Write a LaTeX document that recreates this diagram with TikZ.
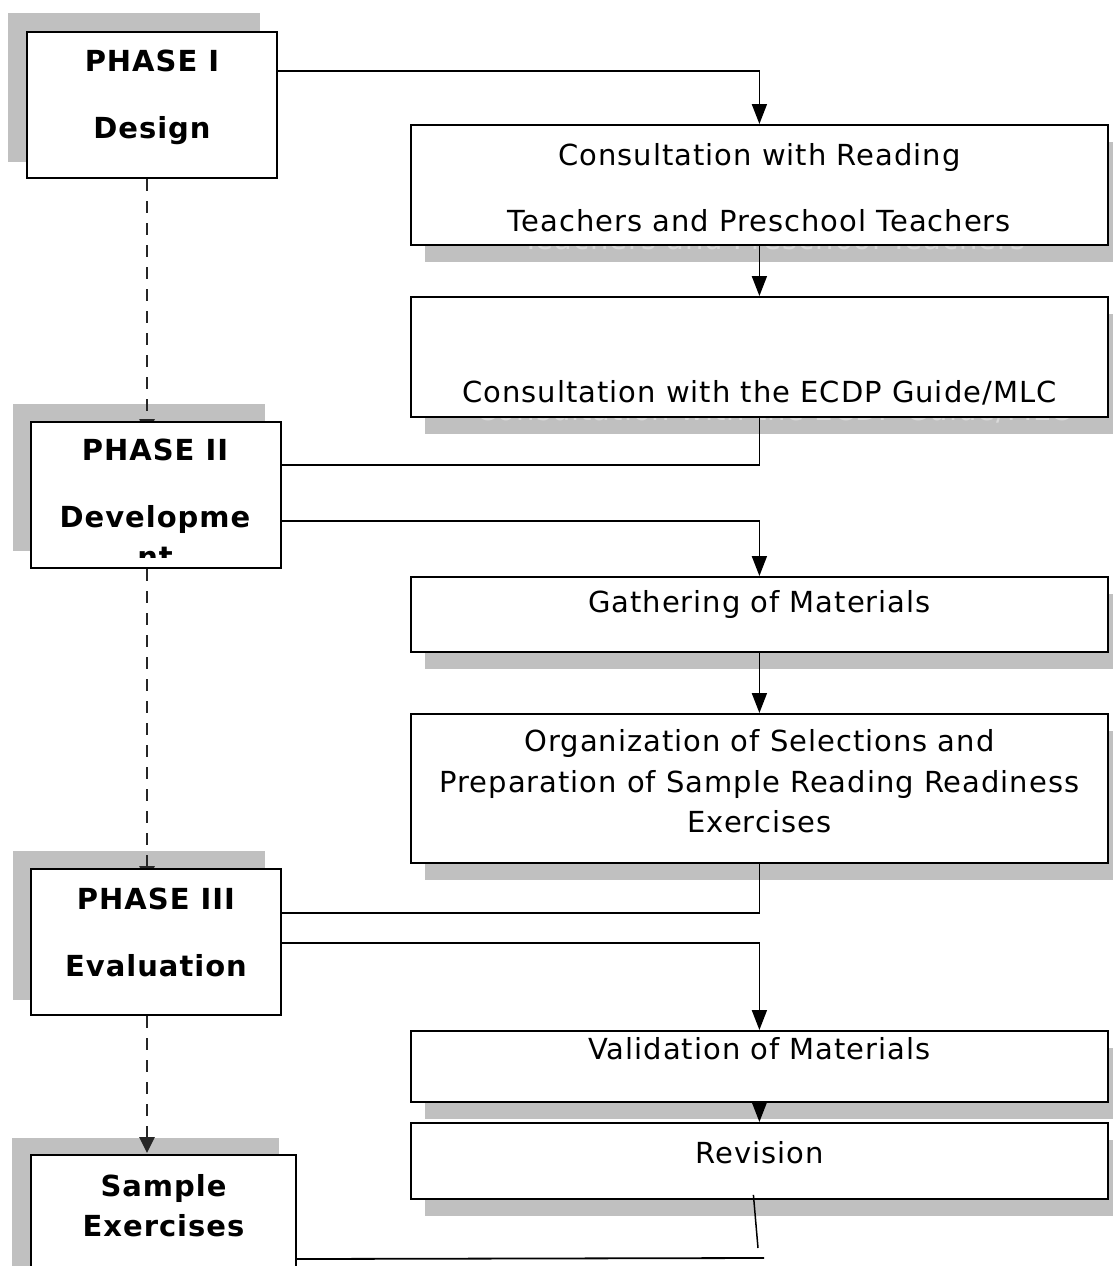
\documentclass[tikz,border=0pt]{standalone}
\usepackage{fontspec}
\setmainfont{DejaVu Sans}
\newfontfamily\spacedfamily[LetterSpace=3.4]{DejaVu Sans}
\usetikzlibrary{arrows.meta,positioning}

\definecolor{shadowgray}{HTML}{C0C0C0}
\definecolor{ghostgray}{HTML}{DADADA}
\definecolor{dashgray}{HTML}{262626}

\newcommand{\stepfont}{\spacedfamily\fontsize{29}{66}\selectfont}
\newcommand{\phasefont}{\spacedfamily\bfseries\fontsize{29}{67}\selectfont}

\tikzset{
  phasebox/.style={draw, line width=2pt, fill=white, anchor=north west, align=center,
    font=\phasefont, minimum width=250pt, minimum height=146pt, inner sep=0pt},
  stepbox/.style={draw, line width=1.8pt, fill=white, anchor=north west, align=center,
    font=\stepfont, minimum width=697pt, inner sep=0pt},
  shadebox/.style={fill=shadowgray, anchor=north west, inner sep=0pt, align=center},
  link/.style={line width=1.8pt},
  flow/.style={link, -{Triangle[length=20pt,width=15pt]}},
  phaseflow/.style={dashgray, line width=2.6pt, dash pattern=on 12pt off 10pt,
    -{Triangle[length=16pt,width=15pt]}},
}

\begin{document}
\begin{tikzpicture}[x=1pt, y=-1pt]
    \useasboundingbox (0,0) rectangle (1112,1266);

    % Shadows
    \node[shadebox, minimum width=252pt, minimum height=149pt] (p1s) at (8,13) {};
    \node[shadebox, minimum width=252pt, minimum height=147pt] (p2s) at (13,404) {};
    \node[shadebox, minimum width=252pt, minimum height=149pt] (p3s) at (13,851) {};
    \node[shadebox, minimum width=267pt, minimum height=150pt] (p4s) at (12,1138) {};

    \node[shadebox, font=\stepfont, text=ghostgray, minimum width=697pt, minimum height=120pt,
        text height=94pt, text depth=0pt] (c1s) at (425,142)
        {Consultation with Reading\\Teachers and Preschool Teachers};
    \node[shadebox, font=\stepfont, text=ghostgray, minimum width=697pt, minimum height=120pt,
        text height=92pt, text depth=0pt] (c2s) at (425,314)
        {\mbox{}\\Consultation with the ECDP Guide/MLC};
    \foreach \y/\h in {594/75, 731/149, 1048/71, 1140/76} {
        \fill[shadowgray] (425,\y) rectangle ++(697,\h);
    }

    % Phase spine (dashed)
    \coordinate (spine) at (147,0);
    \node[phasebox, draw=none, fill=none] (p1) at (26,31) {};
    \node[phasebox, draw=none, fill=none] (p2) at (30,421) {};
    \node[phasebox, draw=none, fill=none] (p3) at (30,868) {};
    \node[phasebox, draw=none, fill=none, minimum width=265pt, minimum height=150pt] (p4) at (30,1154) {};
    \draw[phaseflow] (p1.south -| spine) -- ([yshift=-14pt]p2.north -| spine);
    \draw[phaseflow] (p2.south -| spine) -- ([yshift=-14pt]p3.north -| spine);
    \draw[phaseflow] (p3.south -| spine) -- ([yshift=1pt]p4.north -| spine);

    % Phase boxes
    \node[phasebox, text depth=22pt] (p1) at (26,31) {PHASE I\\Design};
    \node[phasebox] (p2) at (30,421) {};
    \begin{scope}
        \clip (29,420) rectangle (281,557);
        \node[font=\phasefont, align=center, anchor=north, inner sep=0pt] (p2t) at (155,439)
            {PHASE II\\Developme\\[-27pt]nt};
    \end{scope}
    \node[phasebox, text depth=20pt] (p3) at (30,868) {PHASE III\\Evaluation};
    \node[phasebox, minimum width=265pt, minimum height=150pt, text depth=50pt,
        font={\spacedfamily\bfseries\fontsize{29}{40}\selectfont}] (p4) at (30,1154) {Sample\\Exercises};

    % Step boxes
    \node[stepbox, minimum height=120pt, text height=94pt, text depth=0pt] (c1) at (410,124)
        {Consultation with Reading\\Teachers and Preschool Teachers};
    \node[stepbox, minimum height=120pt, text height=92pt, text depth=0pt] (c2) at (410,296)
        {\mbox{}\\Consultation with the ECDP Guide/MLC};
    \node[stepbox, minimum height=75pt, text depth=25pt] (g) at (410,576) {Gathering of Materials};
    \node[stepbox, minimum height=149pt, text depth=14pt, font={\spacedfamily\fontsize{29}{40.5}\selectfont}] (o) at (410,713)
        {Organization of Selections and\\Preparation of Sample Reading Readiness\\Exercises};
    \node[stepbox, minimum height=71pt, text depth=36pt] (v) at (410,1030) {Validation of Materials};
    \node[stepbox, minimum height=76pt, text depth=16pt] (r) at (410,1122) {Revision};

    % Connectors
    \draw[flow] ([yshift=34pt]p1.east) -| (c1.north);
    \draw[flow] (c1) -- (c2);
    \draw[link] (c2.south) |- ([yshift=30pt]p2.east);
    \draw[flow] ([yshift=-26pt]p2.east) -| (g.north);
    \draw[flow] (g) -- (o);
    \draw[link] (o.south) |- ([yshift=29pt]p3.east);
    \draw[flow] ([yshift=-1pt]p3.east) -| (v.north);
    \draw[flow] (v) -- (r);

    \coordinate (revend) at (758,1248);
    \coordinate (sampleend) at (764,1258);
    \draw[line width=1.5pt] ([xshift=-6pt,yshift=5pt]r.south) -- (revend);
    \draw[link] ([yshift=-29pt]p4.east) -- (sampleend);

\end{tikzpicture}
\end{document}
